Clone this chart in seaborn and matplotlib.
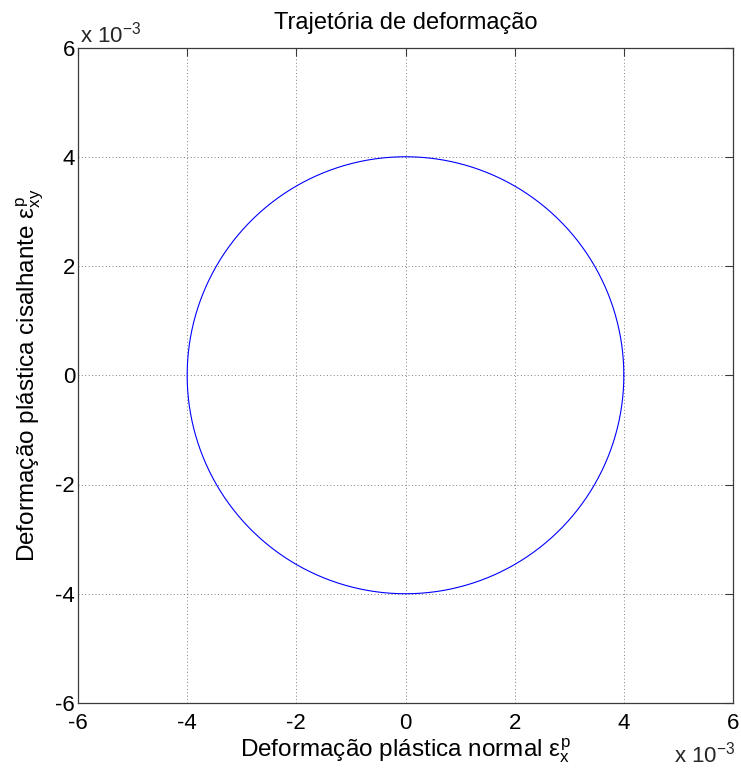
import numpy as np
import pandas as pd
import matplotlib
matplotlib.use("Agg")
import matplotlib.pyplot as plt
import seaborn as sns
from matplotlib.ticker import FuncFormatter, FixedLocator

# Plastic strain trajectory: circular path in (eps_x, eps_xy) space
radius = 4e-3
n_points = 361
x_ticks = [-6, -4, -2, 0, 2, 4, 6]
y_ticks = [-6, -4, -2, 0, 2, 4, 6]
scale = 1e-3

theta = np.linspace(0.0, 2.0 * np.pi, n_points)
df = pd.DataFrame({"eps_x": radius * np.cos(theta), "eps_xy": radius * np.sin(theta)})

sns.set_theme(style="white")
plt.rcParams["font.family"] = ["Liberation Sans", "DejaVu Sans"]
plt.rcParams["mathtext.fontset"] = "custom"
plt.rcParams["mathtext.rm"] = "Liberation Sans"
plt.rcParams["mathtext.it"] = "Liberation Sans"

fig = plt.figure(figsize=(7.41, 7.71), dpi=100)
ax = fig.add_axes([78 / 741, 1 - 703 / 771, (733 - 78) / 741, (703 - 47.5) / 771])

sns.lineplot(data=df, x="eps_x", y="eps_xy", sort=False, estimator=None,
             color="#0000ff", linewidth=0.8, ax=ax)

ax.set_xlim(x_ticks[0] * scale, x_ticks[-1] * scale)
ax.set_ylim(y_ticks[0] * scale, y_ticks[-1] * scale)
ax.xaxis.set_major_locator(FixedLocator([t * scale for t in x_ticks]))
ax.yaxis.set_major_locator(FixedLocator([t * scale for t in y_ticks]))
fmt = FuncFormatter(lambda v, pos: f"{v / scale:g}")
ax.xaxis.set_major_formatter(fmt)
ax.yaxis.set_major_formatter(fmt)

edge = "#3a3a3a"
for s in ax.spines.values():
    s.set_color(edge)
    s.set_linewidth(0.9)
ax.tick_params(direction="in", length=6, width=0.8, color=edge,
               top=True, right=True, labelsize=16, labelcolor="black")
ax.tick_params(axis="y", pad=2)
ax.tick_params(axis="x", pad=7)
ax.grid(True, color="#808080", linestyle=(0, (1, 2.5)), linewidth=0.7)
ax.set_axisbelow(True)

ax.set_title("Trajetória de deformação", fontsize=17, color="black", pad=13)
ax.set_xlabel(r"Deformação plástica normal $\varepsilon^{\mathrm{p}}_{\mathrm{x}}$",
              fontsize=17.5, color="black", labelpad=2)
ax.set_ylabel(r"Deformação plástica cisalhante $\varepsilon^{\mathrm{p}}_{\mathrm{xy}}$",
              fontsize=17.5, color="black", labelpad=7)

# Exponent multipliers for both axes
fig.text(80 / 741, 1 - 42 / 771, r"x 10$^{\mathrm{-3}}$", fontsize=16, ha="left", va="baseline")
fig.text(735 / 741, 1 - 762 / 771, r"x 10$^{\mathrm{-3}}$", fontsize=16, ha="right", va="baseline")

fig.savefig("out.png", dpi=100)
